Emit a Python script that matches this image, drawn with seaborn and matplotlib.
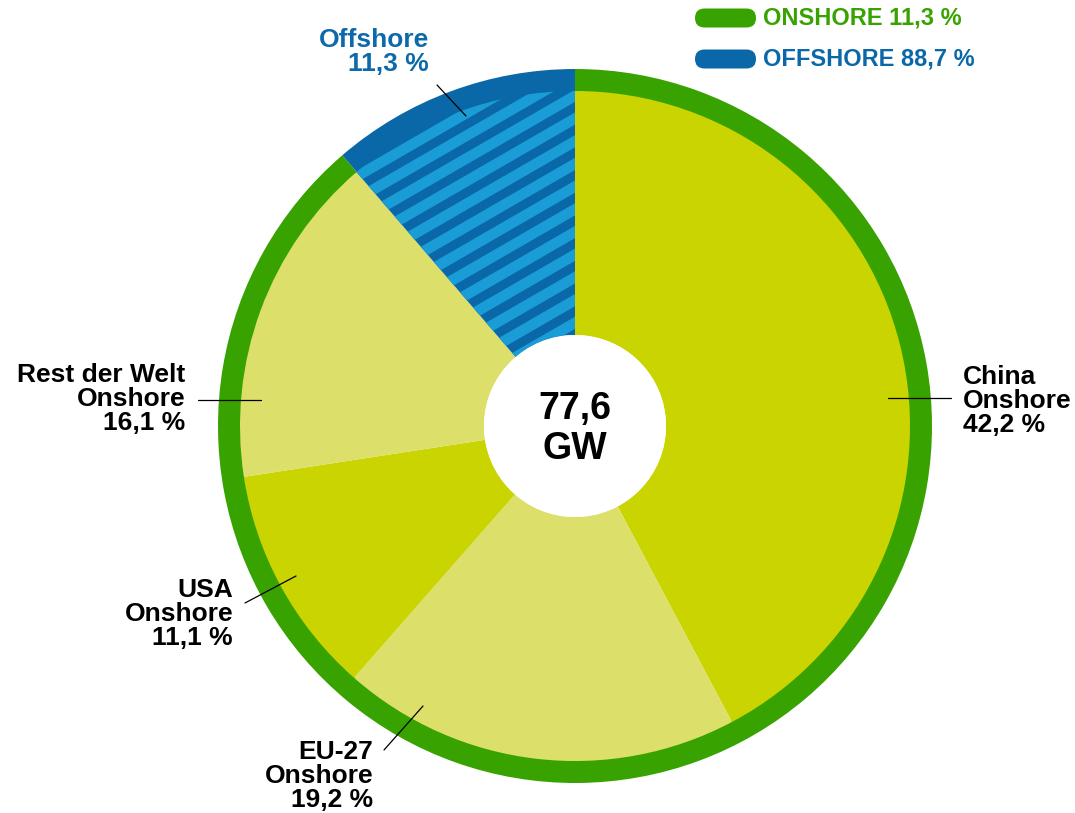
import matplotlib
matplotlib.use("Agg")
import numpy as np
import matplotlib.pyplot as plt
import seaborn as sns
from matplotlib.patches import FancyBboxPatch, Circle

# ---------------- data ----------------
categories = ["China\nOnshore", "EU-27\nOnshore", "USA\nOnshore", "Rest der Welt\nOnshore", "Offshore"]
shares = [42.2, 19.2, 11.1, 16.1, 11.3]
share_labels = ["42,2 %", "19,2 %", "11,1 %", "16,1 %", "11,3 %"]
ring_groups = ["Onshore", "Offshore"]
ring_shares = [88.7, 11.3]
legend_labels = ["ONSHORE 11,3 %", "OFFSHORE 88,7 %"]
total_label = "77,6\nGW"

# ---------------- style ----------------
sns.set_style("white")
plt.rcParams['font.family'] = ['Liberation Sans', 'DejaVu Sans']

GREEN = "#38a300"
BLUE_DARK = "#0a68a8"
BLUE_LIGHT = "#1a9dd6"
YG = "#c9d400"
YG_LIGHT = "#dce06a"
slice_colors = [YG, YG_LIGHT, YG, YG_LIGHT, BLUE_DARK]
ring_colors = [GREEN, BLUE_DARK]
TXT_BLUE = "#0c6aaa"

W, H = 1075, 813
fig = plt.figure(figsize=(W / 100, H / 100), dpi=100)
ax = fig.add_axes([0, 0, 1, 1])

cx, cy = 575, H - 426
R_OUT, RING_W = 357, 23
R_IN = R_OUT - RING_W + 1
R_HOLE = 91

# outer ring
ax.pie(ring_shares, colors=ring_colors, startangle=90, counterclock=False,
       radius=R_OUT, center=(cx, cy), wedgeprops=dict(width=RING_W, linewidth=0))
# inner slices
wedges, _ = ax.pie(shares, colors=slice_colors, startangle=90, counterclock=False,
                   radius=R_IN, center=(cx, cy),
                   wedgeprops=dict(width=R_IN - R_HOLE, linewidth=0))

# stripes in offshore wedge
off = wedges[4]
ang = np.deg2rad(30)
period = 22.7
xs = np.array([cx - 400, cx + 50])
for c in np.arange(-700, 700, period):
    ys = (H - 213) + np.tan(ang) * (xs - cx) + c
    ln, = ax.plot(xs, ys, color=BLUE_LIGHT, lw=7.6, solid_capstyle='butt', zorder=3)
    ln.set_clip_path(off)

ax.add_patch(Circle((cx, cy), R_HOLE, facecolor="white", edgecolor="none", zorder=4))
ax.text(cx, cy - 3, total_label, ha="center", va="center", fontsize=27,
        fontweight="bold", linespacing=1.15, color="black", zorder=5)

# labels: (text x, text center y, align, line from, line to, color)
label_layout = [
    (963, 401, "left", (888, 398), (951, 398), "black"),
    (373, 776, "right", (384, 750), (423, 706), "black"),
    (233, 614, "right", (245, 603), (296, 576), "black"),
    (185, 399, "right", (198, 400), (261, 400), "black"),
    (429, 52, "right", (437, 85), (466, 116), TXT_BLUE),
]
for cat, lab, (tx, ty, al, p0, p1, col) in zip(categories, share_labels, label_layout):
    ax.text(tx, H - ty, f"{cat}\n{lab}", ha=al, va="center", fontsize=19,
            fontweight="bold", color=col, linespacing=0.98, zorder=6)
    ax.plot([p0[0], p1[0]], [H - p0[1], H - p1[1]], color="black", lw=0.9, zorder=6)

# legend pills
for (lab, col, yc) in zip(legend_labels, ring_colors, [18, 59]):
    ax.add_patch(FancyBboxPatch((695, H - yc - 9.5), 61, 19,
                                boxstyle="round,pad=0,rounding_size=9.5",
                                facecolor=col, edgecolor="none", zorder=6))
    ax.text(763, H - yc, lab, ha="left", va="center", fontsize=17,
            fontweight="bold", color=col, zorder=6)

ax.set_xlim(0, W)
ax.set_ylim(0, H)
ax.set_aspect("equal")
ax.axis("off")
fig.savefig("out.png", dpi=100)
